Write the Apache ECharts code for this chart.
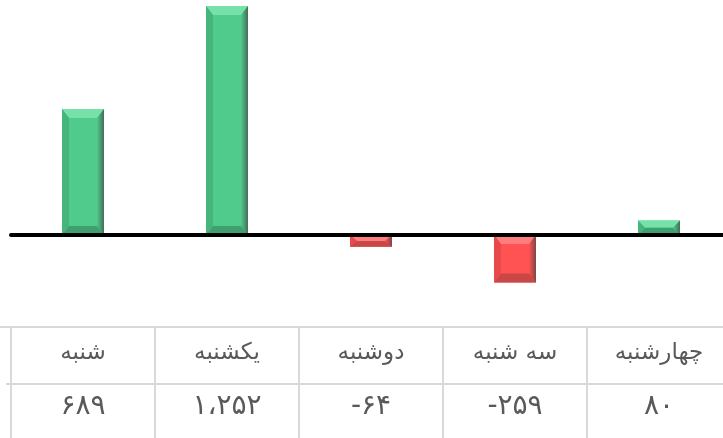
<!DOCTYPE html>
<html><head><meta charset="utf-8">
<script src="https://cdn.jsdelivr.net/npm/echarts@6/dist/echarts.min.js"></script>
<style>html,body{margin:0;padding:0;background:#fff}#c{width:723px;height:438px}</style>
</head><body><div id="c"></div>
<script>
const categories = ['شنبه', 'یکشنبه', 'دوشنبه', 'سه شنبه', 'چهارشنبه'];
const values = [689, 1252, -64, -259, 80];

function fa(n) {
  const s = Math.abs(n).toString().replace(/\B(?=(\d{3})+(?!\d))/g, '،');
  const d = s.replace(/\d/g, c => '۰۱۲۳۴۵۶۷۸۹'[+c]);
  return (n < 0 ? '-' : '') + d;
}

const PAL = {
  pos: { main: '#50cb8b', top: '#76e2aa', left: '#46b57c', bottom: '#3f9f6e', right: '#466b58' },
  neg: { main: '#ff5252', top: '#ff7d7d', left: '#e64a4a', bottom: '#c94747', right: '#7e4646' }
};

const chart = echarts.init(document.getElementById('c'), null, { renderer: 'canvas' });
chart.setOption({
  animation: false,
  backgroundColor: '#fff',
  grid: { left: 11, width: 720, top: 0, bottom: 111.5, containLabel: false, outerBoundsMode: 'none' },
  xAxis: {
    type: 'category', data: categories, boundaryGap: true, z: 5,
    axisLine: { show: true, onZero: true, lineStyle: { color: '#000', width: 4 } },
    axisTick: { show: false }, axisLabel: { show: false }, splitLine: { show: false }
  },
  yAxis: {
    type: 'value', min: -500, max: 1285, show: false, splitLine: { show: false }
  },
  series: [{
    type: 'custom', z: 1, clip: false,
    data: values.map((v, i) => [i, v]),
    encode: { x: 0, y: 1 },
    renderItem: function (params, api) {
      const i = api.value(0), v = api.value(1);
      const p = api.coord([i, v]), b0 = api.coord([i, 0]);
      const w = 42;
      const x0 = p[0] - w / 2, x1 = x0 + w;
      const yT = Math.min(p[1], b0[1]), yB = Math.max(p[1], b0[1]);
      const h = yB - yT;
      const bv = Math.min(9, h / 2), s = 7;
      const c = v >= 0 ? PAL.pos : PAL.neg;
      return {
        type: 'group',
        children: [
          { type: 'rect', shape: { x: x0, y: yT, width: w, height: h }, style: { fill: c.main } },
          { type: 'polygon', shape: { points: [[x0, yT], [x1, yT], [x1 - s, yT + bv], [x0 + s, yT + bv]] }, style: { fill: c.top } },
          { type: 'polygon', shape: { points: [[x0, yB], [x1, yB], [x1 - s, yB - bv], [x0 + s, yB - bv]] }, style: { fill: c.bottom } },
          { type: 'polygon', shape: { points: [[x0, yT], [x0 + s, yT + bv], [x0 + s, yB - bv], [x0, yB]] }, style: { fill: c.left } },
          { type: 'polygon', shape: { points: [[x1, yT], [x1 - s, yT + bv], [x1 - s, yB - bv], [x1, yB]] },
            style: { fill: new echarts.graphic.LinearGradient(0, 0, 1, 0, [{ offset: 0, color: c.main }, { offset: 1, color: c.right }]) } }
        ]
      };
    }
  }]
});

// data table below the chart
const tableTop = 327, rowMid = 384, tableBottom = 438;
const g = [];
const lineStyle = { stroke: '#d9d9d9', lineWidth: 2 };
g.push({ type: 'line', shape: { x1: 0, y1: tableTop, x2: 723, y2: tableTop }, style: lineStyle, silent: true });
g.push({ type: 'line', shape: { x1: 6, y1: rowMid, x2: 723, y2: rowMid }, style: lineStyle, silent: true });
categories.forEach((cat, i) => {
  const cx = chart.convertToPixel({ xAxisIndex: 0 }, i);
  const half = 72;
  g.push({ type: 'line', shape: { x1: cx - half, y1: tableTop, x2: cx - half, y2: tableBottom }, style: lineStyle, silent: true });
  g.push({ type: 'text', x: cx, y: 353, style: { text: cat, align: 'center', verticalAlign: 'middle', fill: '#595959', fontSize: 23, fontFamily: '"DejaVu Sans", sans-serif' } });
  g.push({ type: 'text', x: cx, y: 407, style: { text: fa(values[i]), align: 'center', verticalAlign: 'middle', fill: '#595959', fontSize: 28, fontFamily: '"DejaVu Sans", sans-serif' } });
});
chart.setOption({ graphic: g });
</script>
</body></html>
